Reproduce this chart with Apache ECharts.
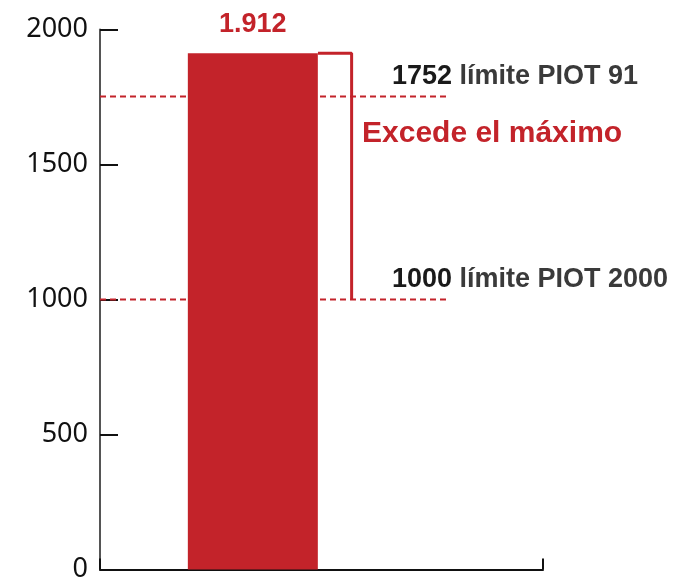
<!DOCTYPE html>
<html>
<head>
<meta charset="utf-8">
<script src="https://cdn.jsdelivr.net/npm/echarts@6/dist/echarts.min.js"></script>
<style>
html,body{margin:0;padding:0;background:#fff;}
#c{width:673px;height:583px;}
</style>
</head>
<body>
<div id="c"></div>
<script>
const barValues = [1912];
const barLabels = ['1.912'];
const limitValues = [1752, 1000];
const limitNames = ['límite PIOT 91', 'límite PIOT 2000'];
const exceedText = 'Excede el máximo';
const yTicks = [0, 500, 1000, 1500, 2000];

const RED = '#C3232A';
const chart = echarts.init(document.getElementById('c'), null, {renderer: 'canvas'});
const barX = 0.345;
const barRightX = 0.492;
const bracketX = 0.568;
const lineEndX = 0.788;
const labelX = 0.659;

const limitSeries = limitValues.map((v, i) => ({
  type: 'line',
  symbol: 'none',
  silent: true,
  z: 1,
  lineStyle: {color: RED, type: [6, 4], width: 2},
  data: [[0, v], [lineEndX, v]],
  markPoint: {
    silent: true,
    data: [{
      coord: [labelX, v], symbol: 'circle', symbolSize: 0,
      label: {
        show: true, position: 'right', distance: 0, offset: [0, -20],
        formatter: '{b|' + v + ' }{n|' + limitNames[i] + '}',
        rich: {
          b: {fontSize: 27, fontWeight: 'bold', color: '#1a1a1a', fontFamily: 'Liberation Sans'},
          n: {fontSize: 27, fontWeight: 'bold', color: '#3a3a3a', fontFamily: 'Liberation Sans'}
        }
      }
    }]
  }
}));

const option = {
  animation: false,
  backgroundColor: '#fff',
  grid: {left: 100, right: 130, top: 29.5, bottom: 9.7, containLabel: false},
  xAxis: {
    type: 'value', min: 0, max: 1, interval: 1,
    axisLine: {show: true, lineStyle: {color: '#111', width: 2}},
    axisTick: {show: true, inside: true, length: 11, lineStyle: {color: '#111', width: 2}},
    axisLabel: {show: false},
    splitLine: {show: false}
  },
  yAxis: {
    type: 'value', min: yTicks[0], max: yTicks[yTicks.length - 1], interval: 500,
    axisLine: {show: true, lineStyle: {color: '#555', width: 2}},
    axisTick: {show: true, inside: true, length: 18, lineStyle: {color: '#111', width: 2}},
    axisLabel: {margin: 12, color: '#111', fontSize: 27, fontFamily: 'Noto Sans', formatter: v => String(v)},
    splitLine: {show: false}
  },
  series: [
    {
      type: 'bar',
      z: 4,
      barWidth: 130,
      data: barValues.map(v => [barX, v]),
      itemStyle: {color: RED},
      label: {
        show: true, position: 'top', distance: 15,
        formatter: p => barLabels[p.dataIndex],
        color: RED, fontSize: 27, fontWeight: 'bold', fontFamily: 'Liberation Sans'
      }
    },
    {
      type: 'line',
      symbol: 'none',
      silent: true,
      z: 2,
      lineStyle: {color: RED, width: 3},
      data: [[barRightX, barValues[0]], [bracketX, barValues[0]], [bracketX, limitValues[1]]]
    }
  ].concat(limitSeries),
  graphic: [
    {
      type: 'text', left: 362, top: 119,
      style: {text: exceedText, fill: RED, fontSize: 30, fontWeight: 'bold', fontFamily: 'Liberation Sans'}
    }
  ]
};
chart.setOption(option);
</script>
</body>
</html>
